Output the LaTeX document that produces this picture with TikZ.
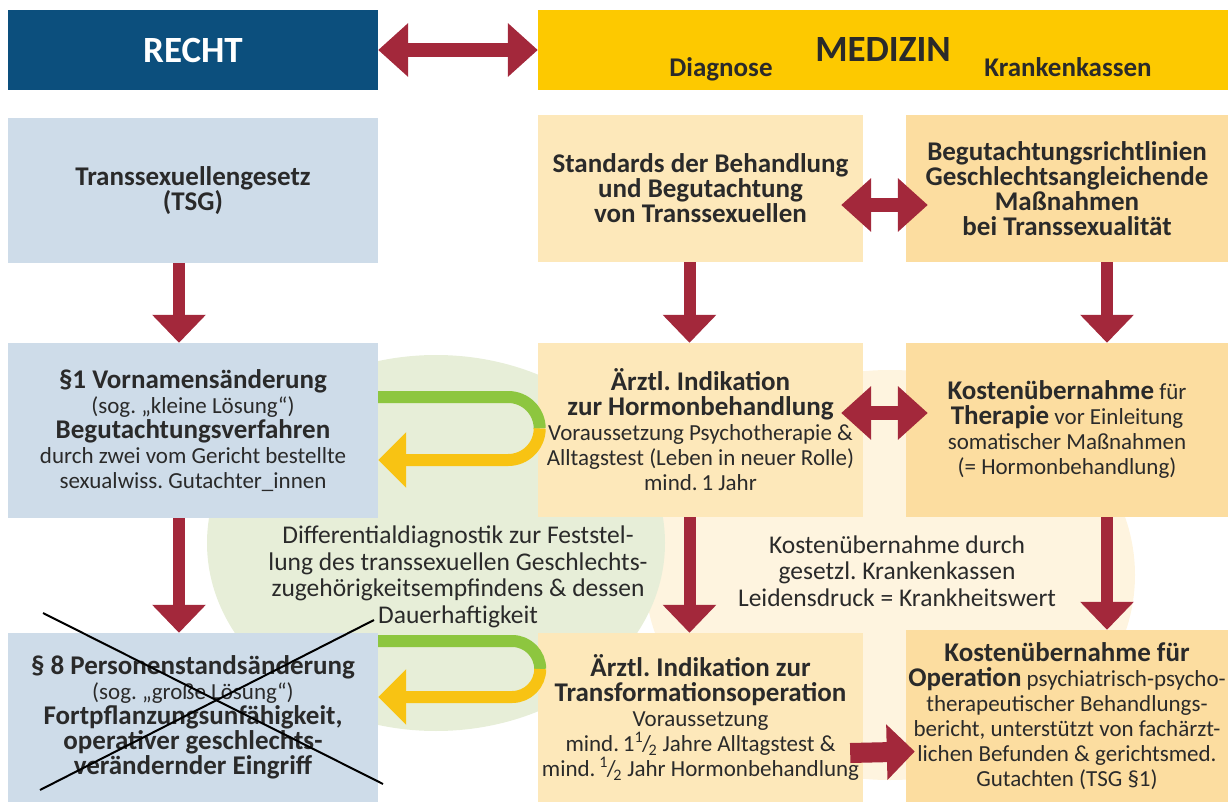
\documentclass[tikz,border=0pt]{standalone}
\usepackage{fontspec}
\setmainfont{Carlito}
\usetikzlibrary{arrows.meta}
\frenchspacing

\definecolor{rechtblau}{HTML}{0C4F7D}
\definecolor{medgelb}{HTML}{FDC900}
\definecolor{hellblau}{HTML}{CEDCE9}
\definecolor{creme}{HTML}{FDE8BA}
\definecolor{kassegelb}{HTML}{FCDDA0}
\definecolor{pfeilrot}{HTML}{A3283B}
\definecolor{gruen}{HTML}{8DC63F}
\definecolor{gelb}{HTML}{F8C313}
\definecolor{hellgruen}{HTML}{E7EED8}
\definecolor{hellcreme}{HTML}{FEF4DF}
\definecolor{schrift}{HTML}{2A2A2A}

\newcommand\fett[1]{{\fontsize{27}{27}\selectfont\bfseries #1}}
\newcommand\halb{\textsuperscript{1}\kern-.05em/\kern-.1em\textsubscript{2}}

\tikzstyle{kasten}=[inner sep=0pt, align=center, text=schrift, font=\fontsize{23}{25}\selectfont]
\tikzstyle{links}=[kasten, fill=hellblau, minimum width=370pt]
\tikzstyle{mitte}=[kasten, fill=creme, minimum width=325pt]
\tikzstyle{rechts}=[kasten, fill=kassegelb, minimum width=322pt]
\tikzstyle{titel}=[kasten, minimum height=80pt, font=\fontsize{37}{40}\selectfont\bfseries]
\tikzstyle{fleche}=[pfeilrot, line width=12pt, -{Triangle[length=28pt,width=52pt]}]
\tikzstyle{doppel}=[pfeilrot, line width=14pt, {Triangle[length=30pt,width=52pt]}-{Triangle[length=30pt,width=52pt]}]
\tikzstyle{band}=[gruen, line width=12pt]
\tikzstyle{rueck}=[gelb, line width=12pt, -{Triangle[length=28pt,width=54pt]}]

\begin{document}
\begin{tikzpicture}[x=1pt, y=-1pt]
\useasboundingbox (0,0) rectangle (1232,802);
% Hintergrund
\fill[hellcreme] (890,575) ellipse[x radius=245pt, y radius=205pt];
\fill[hellgruen] (436,543) ellipse[x radius=229pt, y radius=188pt];

% Kopfzeile
\node[titel, fill=rechtblau, text=white, minimum width=370pt] (recht) at (193,50) {RECHT};
\node[titel, fill=medgelb, minimum width=690pt] (medizin) at (883,50) {MEDIZIN};
\node[kasten, anchor=base, font=\fontsize{27}{27}\selectfont\bfseries] (diagnose) at (721,77) {Diagnose};
\node[kasten, anchor=base, font=\fontsize{27}{27}\selectfont\bfseries] (kassen) at (1068,77) {Krankenkassen};

% Reihe 1
\node[links, minimum height=145pt] (tsg) at (193,190.5) {\fett{Transsexuellengesetz}\\\fett{(TSG)}};
\node[mitte, minimum height=147pt] (standards) at (700.5,188.5)
  {\fett{Standards der Behandlung}\\\fett{und Begutachtung}\\\fett{von Transsexuellen}};
\node[rechts, minimum height=147pt] (richtlinien) at (1067,188.5)
  {\fett{Begutachtungsrichtlinien}\\\fett{Geschlechtsangleichende}\\\fett{Maßnahmen}\\\fett{bei Transsexualität}};

% Reihe 2
\node[links, minimum height=175pt] (vorname) at (193,430.5)
  {\fett{§1 Vornamensänderung}\\(sog. „kleine Lösung“)\\\fett{Begutachtungsverfahren}\\
   durch zwei vom Gericht bestellte\\sexualwiss. Gutachter\_innen};
\node[mitte, minimum height=174pt] (hormon) at (700.5,430)
  {\fett{Ärztl. Indikation}\\\fett{zur Hormonbehandlung}\\Voraussetzung Psychotherapie \&\\
   Alltagstest (Leben in neuer Rolle)\\mind.\,1 Jahr};
\node[rechts, minimum height=174pt] (therapie) at (1067,430)
  {\fett{Kostenübernahme} für\\\fett{Therapie} vor Einleitung\\somatischer Maßnahmen\\(= Hormonbehandlung)};

% Reihe 3
\node[links, minimum height=169pt] (personen) at (193,717.5)
  {\fett{§ 8 Personenstandsänderung}\\(sog. „große Lösung“)\\\fett{Fortpflanzungsunfähigkeit,}\\
   \fett{operativer geschlechts-}\\\fett{verändernder Eingriff}};
\node[mitte, minimum height=169pt] (operation) at (700.5,717.5)
  {\fett{Ärztl. Indikation zur}\\\fett{Transformationsoperation}\\Voraussetzung\\
   mind.\,1\halb{} Jahre Alltagstest \&\\mind.\,\halb{} Jahr Hormonbehandlung};
\node[rechts, minimum height=172pt] (kostenop) at (1067,716)
  {\fett{Kostenübernahme für}\\\fett{Operation} psychiatrisch-psycho-\\therapeutischer Behandlungs-\\
   bericht, unterstützt von fachärzt-\\lichen Befunden \& gerichtsmed.\\Gutachten (TSG §1)};

% Texte im Hintergrund
\node[kasten, font=\fontsize{25.5}{26.5}\selectfont] (differential) at (458,577)
  {Differentialdiagnostik zur Feststel-\\lung des transsexuellen Geschlechts-\\
   zugehörigkeitsempfindens \& dessen\\Dauerhaftigkeit};
\node[kasten, font=\fontsize{25.5}{26.5}\selectfont] (gesetzl) at (897,571)
  {Kostenübernahme durch\\gesetzl. Krankenkassen\\Leidensdruck = Krankheitswert};

% Pfeile
\draw[doppel] (recht.east) -- (medizin.west);
\draw[doppel] ([shift={(-22pt,-16.5pt)}]standards.east) -- ([shift={(22pt,-16.5pt)}]richtlinien.west);
\draw[doppel] ([shift={(-22pt,17pt)}]hormon.east) -- ([shift={(22pt,17pt)}]therapie.west);
\foreach \a/\b/\dx in {tsg/vorname/-14, vorname/personen/-14, standards/hormon/-11,
  hormon/operation/-11, richtlinien/therapie/40, therapie/kostenop/40}
\draw[fleche] ([xshift=\dx pt]\a.south) -- ([xshift=\dx pt]\b.north);
\draw[fleche, line width=20pt, -{Triangle[length=28pt,width=54pt]}]
  ([shift={(-13pt,-35.5pt)}]operation.east) -- ([shift={(9pt,-35.5pt)}]kostenop.west);

% Rueckpfeile
\draw[band] ([yshift=33.5pt]vorname.east) -- ++(130pt,0) arc[start angle=90, end angle=0, radius=31.5pt] coordinate (wende1);
\draw[rueck] (wende1) arc[start angle=0, end angle=-90, radius=31.5pt] -- ([yshift=-29.5pt]vorname.east);
\draw[band] ([yshift=76.5pt]personen.east) -- ++(134pt,0) arc[start angle=90, end angle=0, radius=28pt] coordinate (wende2);
\draw[rueck] (wende2) arc[start angle=0, end angle=-90, radius=28pt] -- ([yshift=20.5pt]personen.east);

% gestrichen
\draw[line width=2pt] (43,613) -- (383,784);
\draw[line width=2pt] (40,790) -- (374,620);
\end{tikzpicture}
\end{document}
